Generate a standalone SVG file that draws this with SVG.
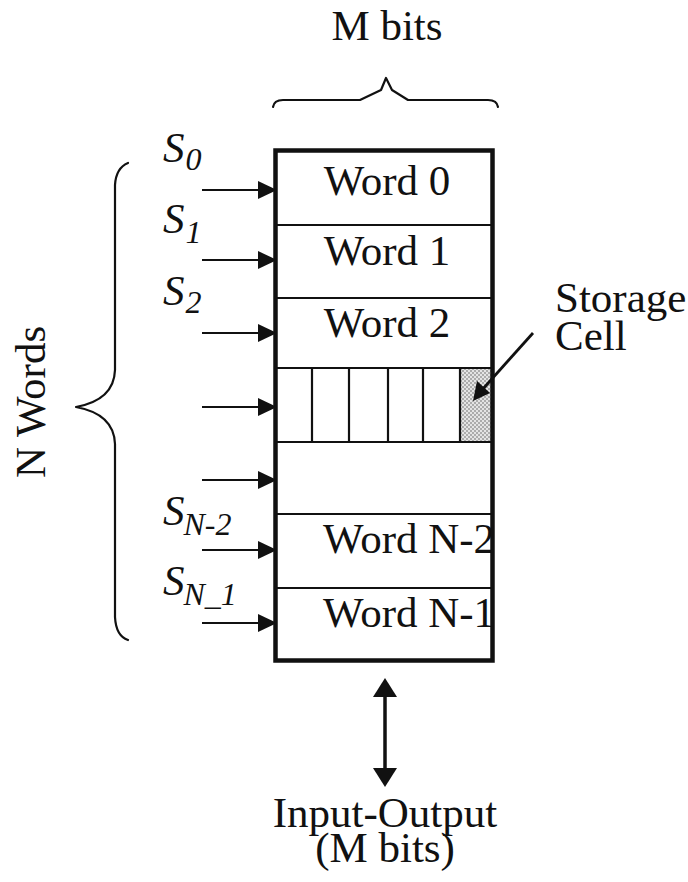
<svg xmlns="http://www.w3.org/2000/svg" width="688" height="882" viewBox="0 0 688 882">
<style>
text{font-family:"Liberation Serif","Times New Roman",serif;fill:#111;}
.t{font-size:43px;}
.s{font-size:43px;font-style:italic;}
.sub{font-size:32px;font-style:italic;}
.div{stroke:#111;stroke-width:2.2;fill:none;}
.ln{stroke:#111;stroke-width:2.2;fill:none;}
.brace{stroke:#111;stroke-width:2.2;fill:none;stroke-linejoin:round;stroke-linecap:round;}
.head{fill:#111;}
</style>
<defs>
<pattern id="dots" width="4" height="4" patternUnits="userSpaceOnUse">
<rect width="4" height="4" fill="#e4e4e4"/>
<circle cx="1" cy="1" r="0.8" fill="#666"/>
<circle cx="3" cy="3" r="0.8" fill="#666"/>
</pattern>
<clipPath id="boxclip"><rect x="276" y="150" width="215" height="510"/></clipPath>
</defs>

<g id="top-label">
<text class="t" x="387" y="40" text-anchor="middle">M bits</text>
<path class="brace" d="M273,107 Q274,100 283,100 L360,100 L381,90 L386,78 L392,90 L408,100 L488,100 Q497,100 498,107"/>
</g>

<g id="side-label">
<text class="t" transform="translate(45,402) rotate(-90)" text-anchor="middle">N Words</text>
<path class="brace" d="M128,163 Q116,168 115,185 L115,370 Q114,400 76,407 Q114,414 115,444 L115,617 Q116,636 128,640"/>
</g>

<g id="memory">
<rect x="460" y="368" width="32" height="74" fill="url(#dots)"/>
<g id="rows">
<line class="div" x1="276" y1="225" x2="491" y2="225"/>
<line class="div" x1="276" y1="298" x2="491" y2="298"/>
<line class="div" x1="276" y1="368" x2="491" y2="368"/>
<line class="div" x1="276" y1="442" x2="491" y2="442"/>
<line class="div" x1="276" y1="514" x2="491" y2="514"/>
<line class="div" x1="276" y1="588" x2="491" y2="588"/>
</g>
<g id="cells">
<line class="div" x1="312" y1="368" x2="312" y2="442"/>
<line class="div" x1="349" y1="368" x2="349" y2="442"/>
<line class="div" x1="388" y1="368" x2="388" y2="442"/>
<line class="div" x1="423" y1="368" x2="423" y2="442"/>
<line class="div" x1="460" y1="368" x2="460" y2="442"/>
</g>
<g id="word-labels" clip-path="url(#boxclip)">
<text class="t" x="387" y="195" text-anchor="middle">Word 0</text>
<text class="t" x="387" y="265" text-anchor="middle">Word 1</text>
<text class="t" x="387" y="337" text-anchor="middle">Word 2</text>
<text class="t" x="323" y="553">Word N-2</text>
<text class="t" x="323" y="627">Word N-1</text>
</g>
<rect x="275.5" y="150.5" width="217" height="510" fill="none" stroke="#111" stroke-width="4.5"/>
</g>

<g id="select-labels">
<text x="163" y="162"><tspan class="s">S</tspan><tspan class="sub" dx="1" dy="8">0</tspan></text>
<text x="163" y="233"><tspan class="s">S</tspan><tspan class="sub" dx="1" dy="10">1</tspan></text>
<text x="163" y="305"><tspan class="s">S</tspan><tspan class="sub" dx="1" dy="8">2</tspan></text>
<text x="163" y="525"><tspan class="s">S</tspan><tspan class="sub" dx="-1" dy="10">N-2</tspan></text>
<text x="163" y="595"><tspan class="s">S</tspan><tspan class="sub" dx="-1" dy="10">N_1</tspan></text>
</g>

<g id="connectors">
<g id="select-arrows">
<line class="ln" x1="202" y1="190" x2="262" y2="190"/><polygon class="head" points="258,181 277,190 258,199"/>
<line class="ln" x1="202" y1="260" x2="262" y2="260"/><polygon class="head" points="258,251 277,260 258,269"/>
<line class="ln" x1="202" y1="333" x2="262" y2="333"/><polygon class="head" points="258,324 277,333 258,342"/>
<line class="ln" x1="202" y1="407" x2="262" y2="407"/><polygon class="head" points="258,398 277,407 258,416"/>
<line class="ln" x1="202" y1="480" x2="262" y2="480"/><polygon class="head" points="258,471 277,480 258,489"/>
<line class="ln" x1="202" y1="550" x2="262" y2="550"/><polygon class="head" points="258,541 277,550 258,559"/>
<line class="ln" x1="202" y1="623" x2="262" y2="623"/><polygon class="head" points="258,614 277,623 258,632"/>
</g>
<g id="cell-arrow">
<line x1="533" y1="333" x2="482" y2="390" stroke="#111" stroke-width="2.8"/>
<polygon class="head" points="473,401 477,381 490,393"/>
</g>
<g id="io-arrow">
<line x1="385" y1="692" x2="385" y2="772" stroke="#111" stroke-width="3.5"/>
<polygon class="head" points="385,678 397,697 373,697"/>
<polygon class="head" points="385,787 397,768 373,768"/>
</g>
</g>

<g id="storage-label">
<text class="t" x="555" y="312">Storage</text>
<text class="t" x="555" y="350">Cell</text>
</g>

<g id="io-label">
<text class="t" x="385" y="827" text-anchor="middle">Input-Output</text>
<text class="t" x="385" y="862" text-anchor="middle">(M bits)</text>
</g>
</svg>
